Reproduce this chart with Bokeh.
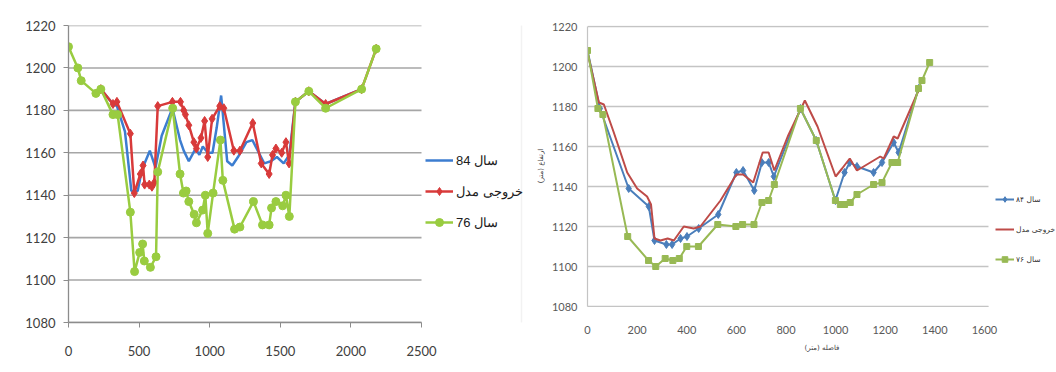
from bokeh.plotting import figure
from bokeh.models import Legend, LegendItem, FixedTicker, BoxAnnotation
from bokeh.layouts import row
from bokeh.embed import file_html
from bokeh.resources import INLINE

# ---------------- left chart data ----------------
L_ticks_x = [0, 500, 1000, 1500, 2000, 2500]
L_ticks_y = [1080, 1100, 1120, 1140, 1160, 1180, 1200, 1220]

L_84_label = "سال 84"
L_84_x = [229, 315, 343, 400, 445, 490, 520, 576, 616, 660, 736, 790, 816, 852, 900, 927,
          951, 987, 1020, 1050, 1081, 1124, 1160, 1200, 1260, 1302, 1386, 1433, 1476, 1524,
          1564, 1607, 1702, 1821, 2076]
L_84_y = [1190, 1183, 1182, 1170, 1142, 1142, 1152, 1161, 1153, 1168, 1181, 1166, 1161, 1156, 1162, 1159,
          1163, 1160, 1160, 1172, 1187, 1156, 1154, 1158, 1165, 1166, 1155, 1156, 1158, 1155,
          1159, 1184, 1189, 1183, 1190]

L_md_label = "خروجی مدل"
L_md_x = [229, 315, 343, 438, 466, 509, 528, 539, 572, 591, 608, 632, 736, 793, 816, 828, 852,
          888, 906, 938, 964, 986, 1017, 1071, 1100, 1171, 1214, 1305, 1365, 1421, 1445, 1469,
          1510, 1540, 1562, 1607, 1702, 1821, 2076, 2179]
L_md_y = [1190, 1183, 1184, 1169, 1141, 1150, 1154, 1145, 1145, 1144, 1146, 1182, 1184, 1184, 1180, 1178, 1173,
          1165, 1162, 1167, 1175, 1158, 1176, 1182, 1181, 1161, 1161, 1174, 1155, 1150, 1159, 1162,
          1160, 1165, 1155, 1184, 1189, 1183, 1190, 1209]

L_76_label = "سال 76"
L_76_x = [0, 66, 90, 194, 229, 315, 348, 438, 468, 504, 525, 537, 580, 620, 632, 738, 790, 814,
          833, 852, 890, 906, 950, 969, 986, 1024, 1076, 1093, 1176, 1214, 1310, 1374, 1421,
          1438, 1469, 1517, 1540, 1564, 1607, 1702, 1821, 2076, 2179]
L_76_y = [1210, 1200, 1194, 1188, 1190, 1178, 1178, 1132, 1104, 1113, 1117, 1109, 1106, 1111, 1151, 1181, 1150, 1141,
          1142, 1137, 1131, 1127, 1133, 1140, 1122, 1141, 1166, 1147, 1124, 1125, 1137, 1126, 1126,
          1134, 1137, 1135, 1140, 1130, 1184, 1189, 1181, 1190, 1209]

# ---------------- right chart data ----------------
R_ticks_x = [0, 200, 400, 600, 800, 1000, 1200, 1400, 1600]
R_ticks_y = [1080, 1100, 1120, 1140, 1160, 1180, 1200, 1220]
R_xlabel = "فاصله (متر)"
R_ylabel = "ارتفاع (متر)"

R_84_label = "سال ۸۴"
R_84_x = [0, 50, 166, 247, 270, 318, 341, 375, 401, 448, 527, 600, 627, 672, 703, 730, 751,
          858, 922, 999, 1036, 1057, 1086, 1153, 1187, 1234, 1254, 1334]
R_84_y = [1208, 1179, 1139, 1130, 1113, 1111, 1111, 1114, 1115, 1119, 1126, 1147, 1148, 1138, 1152, 1152, 1145,
          1179, 1163, 1133, 1147, 1152, 1150, 1147, 1152, 1162, 1157, 1189]

R_md_label = "خروجی مدل"
R_md_x = [0, 46, 66, 106, 160, 200, 240, 256, 270, 294, 323, 348, 388, 428, 455, 536, 600, 627,
          668, 706, 730, 753, 807, 876, 927, 1000, 1026, 1057, 1086, 1180, 1194, 1234, 1250, 1334]
R_md_y = [1207, 1182, 1181, 1167, 1147, 1139, 1135, 1131, 1114, 1113, 1114, 1113, 1120, 1119, 1120, 1133, 1146, 1146,
          1142, 1157, 1157, 1148, 1165, 1183, 1170, 1145, 1149, 1154, 1148, 1155, 1154, 1165, 1164, 1188]

R_76_label = "سال ۷۶"
R_76_x = [0, 42, 62, 162, 246, 275, 313, 344, 370, 400, 447, 525, 598, 625, 671, 703, 730, 753,
          858, 922, 999, 1019, 1036, 1059, 1086, 1153, 1187, 1227, 1250, 1334, 1348, 1379]
R_76_y = [1208, 1179, 1176, 1115, 1103, 1100, 1104, 1103, 1104, 1110, 1110, 1121, 1120, 1121, 1121, 1132, 1133, 1141,
          1179, 1163, 1133, 1131, 1131, 1132, 1136, 1141, 1142, 1152, 1152, 1189, 1193, 1202]

L_x_max = 2500
R_x_max = 1600
R_grid_end = 1616

TOP = 25
BOT = 48

# ---------------- left figure ----------------
p1 = figure(width=528, height=322 + BOT, x_range=(0, L_x_max * 460 / 353), y_range=(1080, 1220),
            output_backend="svg", toolbar_location=None,
            min_border_left=68, min_border_right=0, min_border_top=TOP, min_border_bottom=BOT)
p1.outline_line_color = None
p1.xgrid.grid_line_color = None
p1.ygrid.grid_line_color = None
p1.segment(x0=[0] * len(L_ticks_y), x1=[L_x_max] * len(L_ticks_y), y0=L_ticks_y, y1=L_ticks_y,
           line_color="#a6a6a6", line_width=1.6)
p1.xaxis.ticker = FixedTicker(ticks=L_ticks_x)
p1.yaxis.ticker = FixedTicker(ticks=L_ticks_y)
p1.xaxis.bounds = (0, L_x_max)
for ax in (p1.xaxis[0], p1.yaxis[0]):
    ax.axis_line_color = "#8c8c8c"
    ax.axis_line_width = 1.3
    ax.major_tick_line_color = "#8c8c8c"
    ax.major_tick_out = 5
    ax.major_tick_in = 0
    ax.minor_tick_line_color = None
    ax.major_label_text_font = "Lato"
    ax.major_label_text_font_size = "13px"
    ax.major_label_text_color = "#404040"
p1.yaxis.major_label_standoff = 8
p1.xaxis.major_label_standoff = 18

# chart-area frame (top and left edges of the Excel chart box)
p1.add_layout(BoxAnnotation(left=7, right=521, top=5, bottom=400,
                            left_units="canvas", right_units="canvas",
                            top_units="canvas", bottom_units="canvas",
                            fill_alpha=0, line_color="#d4d4d4", line_width=1.5))

c_blue, c_red, c_green = "#3c7dd0", "#d83a3a", "#99cc40"
b_line = p1.line(L_84_x, L_84_y, line_color=c_blue, line_width=2.5)
r_line = p1.line(L_md_x, L_md_y, line_color=c_red, line_width=2.5)
r_pts = p1.scatter(L_md_x, L_md_y, marker="diamond", size=9, fill_color=c_red, line_color=c_red)
g_line = p1.line(L_76_x, L_76_y, line_color=c_green, line_width=2.5)
g_pts = p1.scatter(L_76_x, L_76_y, marker="circle", size=8, fill_color=c_green, line_color=c_green)

leg1 = Legend(items=[LegendItem(label=L_84_label, renderers=[b_line]),
                     LegendItem(label=L_md_label, renderers=[r_line, r_pts]),
                     LegendItem(label=L_76_label, renderers=[g_line, g_pts])],
              location=(357, 90), padding=0, margin=0, spacing=11,
              glyph_width=28, glyph_height=20, label_height=20, label_standoff=3,
              label_text_font="Liberation Sans", label_text_font_size="13px",
              label_text_color="#202020", border_line_color=None, background_fill_alpha=0)
p1.add_layout(leg1)

# ---------------- right figure ----------------
p2 = figure(width=528, height=306 + BOT, x_range=(0, R_x_max * 469 / 397), y_range=(1080, 1220.5),
            output_backend="svg", toolbar_location=None,
            min_border_left=59, min_border_right=0, min_border_top=TOP, min_border_bottom=BOT)
p2.outline_line_color = None
p2.xgrid.grid_line_color = None
p2.ygrid.grid_line_color = None
p2.segment(x0=[0] * len(R_ticks_y), x1=[R_grid_end] * len(R_ticks_y), y0=R_ticks_y, y1=R_ticks_y,
           line_color="#c4c4c4", line_width=1.4)
p2.xaxis.ticker = FixedTicker(ticks=R_ticks_x)
p2.yaxis.ticker = FixedTicker(ticks=R_ticks_y)
p2.xaxis.bounds = (0, R_grid_end)
p2.yaxis.bounds = (1080, 1220)
for ax in (p2.xaxis[0], p2.yaxis[0]):
    ax.axis_line_color = "#c4c4c4"
    ax.axis_line_width = 1.2
    ax.major_tick_line_color = None
    ax.major_tick_out = 0
    ax.major_tick_in = 0
    ax.minor_tick_line_color = None
    ax.major_label_text_font = "Lato"
    ax.major_label_text_font_size = "11px"
    ax.major_label_text_color = "#595959"
    ax.axis_label_text_font = "DejaVu Sans"
    ax.axis_label_text_font_size = "7px"
    ax.axis_label_text_font_style = "normal"
    ax.axis_label_text_color = "#404040"
p2.yaxis.major_label_standoff = 10
p2.xaxis.major_label_standoff = 19
p2.xaxis.axis_label = R_xlabel
p2.yaxis.axis_label = R_ylabel
p2.xaxis.axis_label_standoff = 7
p2.yaxis.axis_label_standoff = 4

p2.add_layout(BoxAnnotation(left=5, right=600, top=7, bottom=400,
                            left_units="canvas", right_units="canvas",
                            top_units="canvas", bottom_units="canvas",
                            fill_alpha=0, line_color="#7a7a7a", line_width=1.5))

d_blue, d_red, d_green = "#4a7ebb", "#be4b48", "#98b954"
rb_line = p2.line(R_84_x, R_84_y, line_color=d_blue, line_width=2)
rb_pts = p2.scatter(R_84_x, R_84_y, marker="diamond", size=8, fill_color=d_blue, line_color=d_blue)
rr_line = p2.line(R_md_x, R_md_y, line_color=d_red, line_width=2)
rg_line = p2.line(R_76_x, R_76_y, line_color=d_green, line_width=2)
rg_pts = p2.scatter(R_76_x, R_76_y, marker="square", size=6, fill_color=d_green, line_color=d_green)

leg2 = Legend(items=[LegendItem(label=R_84_label, renderers=[rb_line, rb_pts]),
                     LegendItem(label=R_md_label, renderers=[rr_line]),
                     LegendItem(label=R_76_label, renderers=[rg_line, rg_pts])],
              location=(408, 40), padding=0, margin=0, spacing=16,
              glyph_width=19, glyph_height=14, label_height=14, label_standoff=2,
              label_text_font="DejaVu Sans", label_text_font_size="7.5px",
              label_text_color="#303030", border_line_color=None, background_fill_alpha=0)
p2.add_layout(leg2)

layout = row(p1, p2, spacing=0)
open("out.html", "w").write(file_html(layout, INLINE))
